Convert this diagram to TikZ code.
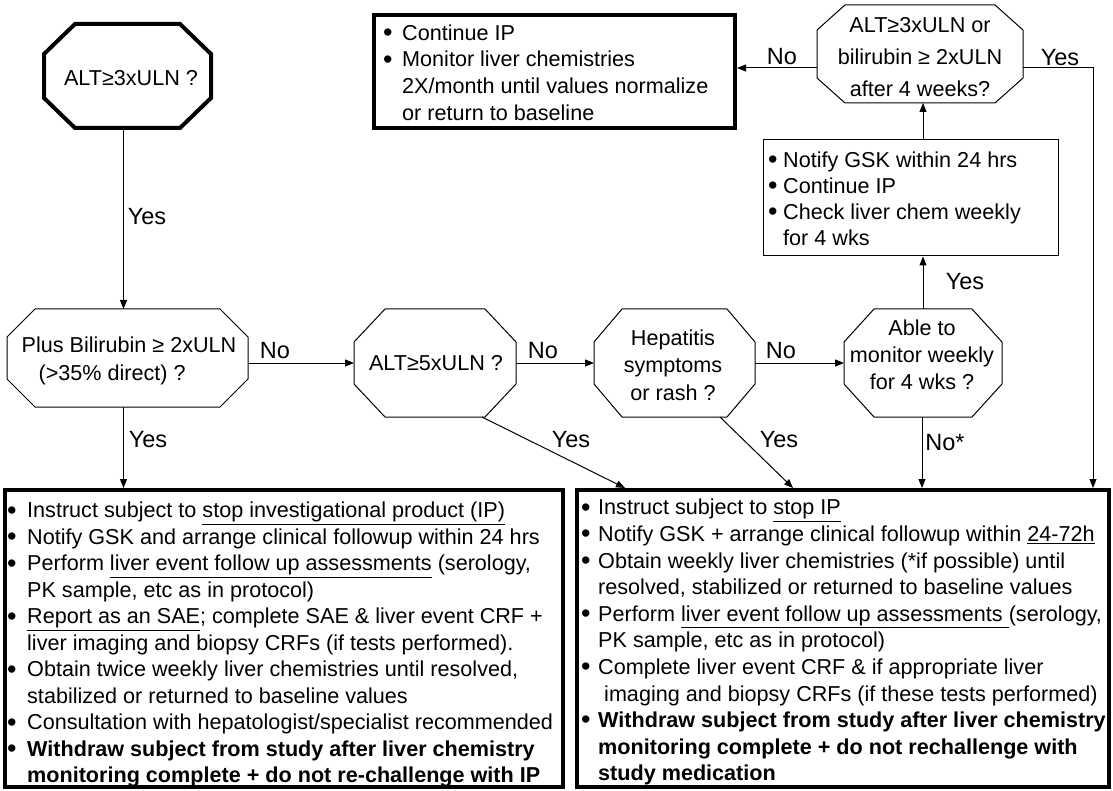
\documentclass[tikz,border=0pt]{standalone}
\usepackage{fontspec}
\setmainfont{Liberation Sans}
\usetikzlibrary{arrows.meta,calc}
\newlength\bw
\newcommand\bul{\makebox[\bw][l]{\raisebox{-1.3pt}{\fontsize{27}{27}\selectfont\textbullet}}}
\newcommand\ind{\hspace*{\bw}}
% draw an octagon on the bounding rectangle of node #2, corner cut #3 (x) and #4 (y)
\newcommand\drawoct[4][]{\draw[#1] ([xshift=#3]#2.north west) -- ([xshift=-#3]#2.north east) -- ([yshift=-#4]#2.north east) -- ([yshift=#4]#2.south east) -- ([xshift=-#3]#2.south east) -- ([xshift=#3]#2.south west) -- ([yshift=#4]#2.south west) -- ([yshift=-#4]#2.north west) -- cycle;}
\begin{document}
\begin{tikzpicture}[x=1pt,y=-1pt,
  shp/.style={draw=none, inner sep=0pt, outer sep=0pt},
  box/.style={draw, line width=1pt, inner sep=0pt, outer sep=0.5pt},
  thickbox/.style={draw, line width=4pt, inner sep=0pt, outer sep=2pt},
  bw/.code={\setlength{\bw}{#1}},
  txt/.style={font=\fontsize{21.6}{26.6}\selectfont, align=left, inner sep=0pt, anchor=north west},
  octtxt/.style={font=\fontsize{21.6}{27}\selectfont, align=center, inner sep=0pt},
  lbl/.style={font=\fontsize{23.5}{28}\selectfont, inner sep=0pt},
  arr/.style={line width=1pt, -{Triangle[length=9pt,width=7pt]}},
  ln/.style={line width=1pt}]
\path[fill=white] (0,0) rectangle (1113,791);
\useasboundingbox (0,0) rectangle (1113,791);

% decision octagons
\node[shp, minimum width=167pt, minimum height=104pt] (A) at (127.5,76) {};
\drawoct[line width=4pt]{A}{31pt}{30pt}
\node[octtxt] (At) at (131,78) {ALT≥3xULN ?};

\node[shp, minimum width=241pt, minimum height=98pt] (B) at (127.5,358) {};
\drawoct[ln]{B}{28pt}{28pt}
\node[octtxt, align=left, font=\fontsize{21.6}{28}\selectfont] (Bt) at (129,361) {Plus Bilirubin ≥ 2xULN\\\hspace*{17pt}(>35\% direct) ?};

\node[shp, minimum width=162pt, minimum height=108pt] (C) at (435,363) {};
\drawoct[ln]{C}{31pt}{33pt}
\node[octtxt] (Ct) at (436,363) {ALT≥5xULN ?};

\node[shp, minimum width=161pt, minimum height=108pt] (D) at (674.5,363) {};
\drawoct[ln]{D}{28pt}{33pt}
\node[octtxt, font=\fontsize{21.6}{27.5}\selectfont] (Dt) at (673,365) {Hepatitis\\symptoms\\or rash ?};

\node[shp, minimum width=158pt, minimum height=108pt] (E) at (923,363) {};
\drawoct[ln]{E}{30pt}{33pt}
\node[octtxt] (Et) at (922,355) {Able to\\monitor weekly\\for 4 wks ?};

\node[shp, minimum width=206pt, minimum height=98pt] (G) at (920,54) {};
\drawoct[ln]{G}{28pt}{25pt}
\node[octtxt, font=\fontsize{21.6}{32}\selectfont] (Gt) at (920,57) {ALT≥3xULN or\\bilirubin ≥ 2xULN\\after 4 weeks?};

% action boxes
\node[box, minimum width=295pt, minimum height=116pt] (F) at (910.5,198) {};
\node[txt, bw=15pt, font=\fontsize{21.6}{26}\selectfont] (Ft) at (768,151.5) {\bul Notify GSK within 24 hrs\\\bul Continue IP\\\bul Check liver chem weekly\\\ind for 4 wks};

\node[thickbox, minimum width=361pt, minimum height=113pt] (H) at (554.5,71.5) {};
\node[txt, bw=19pt] (Ht) at (383,24.5) {\bul Continue IP\\\bul Monitor liver chemistries\\\ind 2X/month until values normalize\\\ind or return to baseline};

\node[thickbox, minimum width=558pt, minimum height=297pt] (L) at (284,638.5) {};
\node[txt, bw=20pt, font=\fontsize{21.6}{26.5}\selectfont] (Lt) at (7,502) {\bul Instruct subject to \underline{stop investigational product (IP)}\\
\bul Notify GSK and arrange clinical followup within 24 hrs\\
\bul Perform \underline{liver event follow up assessments} (serology,\\
\ind PK sample, etc as in protocol)\\
\bul \underline{Report as an SAE}; complete SAE \& liver event CRF +\\
\ind liver imaging and biopsy CRFs (if tests performed).\\
\bul Obtain twice weekly liver chemistries until resolved,\\
\ind stabilized or returned to baseline values\\
\bul Consultation with hepatologist/specialist recommended\\
\bul\textbf{Withdraw subject from study after liver chemistry}\\
\ind\textbf{monitoring complete + do not re-challenge with IP}};

\node[thickbox, minimum width=532pt, minimum height=297pt] (R) at (843,638.5) {};
\node[txt, bw=17pt] (Rt) at (581,499) {\bul Instruct subject to \underline{stop IP}\\
\bul Notify GSK + arrange clinical followup within \underline{24-72h}\\
\bul Obtain weekly liver chemistries (*if possible) until\\
\ind resolved, stabilized or returned to baseline values\\
\bul Perform \underline{liver event follow up assessments\ }(serology,\\
\ind PK sample, etc as in protocol)\\
\bul Complete liver event CRF \& if appropriate liver\\
\ind\hspace*{6pt}imaging and biopsy CRFs (if these tests performed)\\
\bul\textbf{Withdraw subject from study after liver chemistry}\\
\ind\textbf{monitoring complete + do not rechallenge with}\\
\ind\textbf{study medication}};

% connectors
\draw[arr] ([xshift=-4pt]A.south) -- ([xshift=-4pt]A.south |- B.north);
\draw[arr] (B.east |- C.west) -- (C.west);
\draw[arr] (C.east) -- (D.west);
\draw[arr] (D.east) -- (E.west);
\draw[arr] (E.north) -- (E.north |- F.south);
\draw[arr] (E.north |- F.north) -- (E.north |- G.south);
\draw[arr] ([yshift=-14pt]G.west) -- ([yshift=-14pt]G.west -| H.east);
\draw[arr] ([yshift=-14pt]G.east) -| ([xshift=-18pt]R.north east);
\draw[arr] ([xshift=-4pt]B.south) -- ([xshift=-4pt]B.south |- L.north);
\draw[arr] ([xshift=-34pt]C.south east) -- ([xshift=50pt]R.north west);
\draw[arr] ([xshift=-35pt]D.south east) -- ([xshift=218pt]R.north west);
\draw[arr] ([xshift=-1pt]E.south) -- ([xshift=-1pt]E.south |- R.north);

% labels
\node[lbl] (l1) at (147,217) {Yes};
\node[lbl] (l2) at (275,351) {No};
\node[lbl] (l3) at (543,351) {No};
\node[lbl] (l4) at (781,351) {No};
\node[lbl] (l5) at (965,282) {Yes};
\node[lbl] (l6) at (782,57) {No};
\node[lbl] (l7) at (1060,58) {Yes};
\node[lbl] (l8) at (148,440) {Yes};
\node[lbl] (l9) at (571,440) {Yes};
\node[lbl] (l10) at (779,440) {Yes};
\node[lbl] (l11) at (945,443) {No*};
\end{tikzpicture}
\end{document}
